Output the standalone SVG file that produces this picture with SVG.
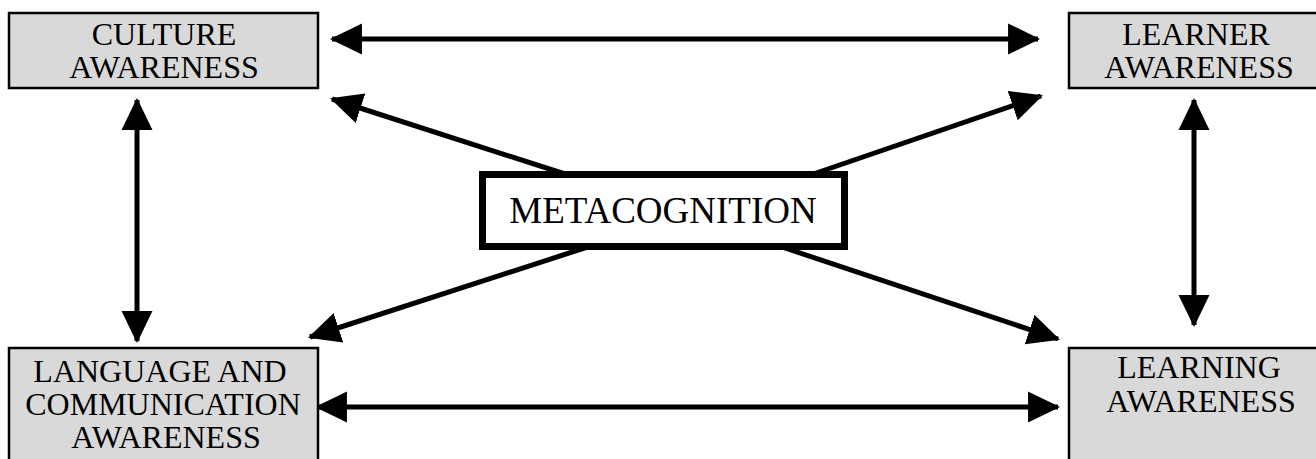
<svg xmlns="http://www.w3.org/2000/svg" width="1316" height="459" viewBox="0 0 1316 459">
<style>
.box{fill:#d9d9d9;stroke:#000;stroke-width:2.5}
.t{font-family:"Liberation Serif","Times New Roman",serif;font-size:32px;fill:#000;text-anchor:middle}
.meta{font-family:"Liberation Serif","Times New Roman",serif;font-size:37px;fill:#000;text-anchor:middle}
.c{stroke:#000;stroke-width:5;fill:none;marker-end:url(#ah)}
.cb{stroke:#000;stroke-width:5;fill:none;marker-start:url(#ahs);marker-end:url(#ah)}
</style>
<defs>
<marker id="ah" markerUnits="userSpaceOnUse" markerWidth="32" markerHeight="32" viewBox="0 0 31 30" refX="29" refY="15" orient="auto">
<path d="M0,0 L31,15 L0,30 Z" fill="#000"/>
</marker>
<marker id="ahs" markerUnits="userSpaceOnUse" markerWidth="32" markerHeight="32" viewBox="0 0 31 30" refX="2" refY="15" orient="auto">
<path d="M31,0 L0,15 L31,30 Z" fill="#000"/>
</marker>
</defs>
<rect width="1316" height="459" fill="#fff"/>
<g id="connectors">
<line class="cb" x1="332" y1="39" x2="1038" y2="39"/>
<line class="cb" x1="137" y1="100" x2="137" y2="341"/>
<line class="cb" x1="1194" y1="100" x2="1194" y2="325"/>
<line class="cb" x1="317" y1="407" x2="1058" y2="407"/>
<line class="c" x1="590" y1="182" x2="332" y2="99"/>
<line class="c" x1="790" y1="182" x2="1041" y2="96"/>
<line class="c" x1="600" y1="243" x2="310" y2="337"/>
<line class="c" x1="770" y1="243" x2="1058" y2="339"/>
</g>
<g id="culture">
<rect class="box" x="9" y="13" width="309" height="75"/>
<text class="t" x="164" y="45">CULTURE</text>
<text class="t" x="164" y="78">AWARENESS</text>
</g>
<g id="learner">
<rect class="box" x="1069" y="13" width="260" height="75"/>
<text class="t" x="1196" y="45">LEARNER</text>
<text class="t" x="1199" y="78">AWARENESS</text>
</g>
<g id="language">
<rect class="box" x="9" y="348" width="309" height="130"/>
<text class="t" x="160" y="382">LANGUAGE AND</text>
<text class="t" x="163" y="415">COMMUNICATION</text>
<text class="t" x="166" y="448">AWARENESS</text>
</g>
<g id="learning">
<rect class="box" x="1069" y="348" width="260" height="130"/>
<text class="t" x="1199" y="378">LEARNING</text>
<text class="t" x="1201" y="412">AWARENESS</text>
</g>
<g id="metacognition">
<rect x="482.5" y="174.5" width="362" height="72" fill="#fff" stroke="#000" stroke-width="7"/>
<text class="meta" x="663" y="223">METACOGNITION</text>
</g>
</svg>
